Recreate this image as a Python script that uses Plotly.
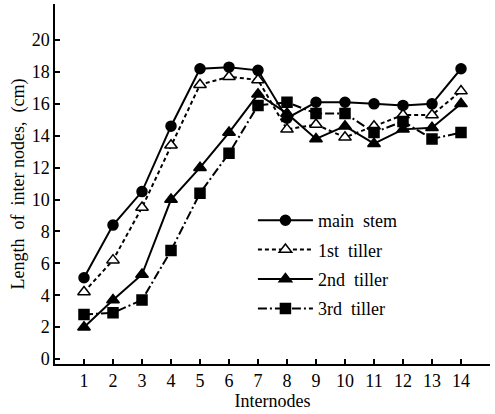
import plotly.graph_objects as go

internodes = list(range(1, 15))
main_stem = [5.1, 8.4, 10.5, 14.6, 18.2, 18.3, 18.1, 15.1, 16.1, 16.1, 16.0, 15.9, 16.0, 18.2]
tiller_1 = [4.2, 6.2, 9.5, 13.4, 17.2, 17.7, 17.5, 14.4, 14.7, 13.9, 14.6, 15.3, 15.3, 16.8]
tiller_2 = [2.0, 3.7, 5.3, 10.0, 12.0, 14.2, 16.6, 15.4, 13.8, 14.6, 13.5, 14.4, 14.5, 16.0]
tiller_3 = [2.8, 2.9, 3.7, 6.8, 10.4, 12.9, 15.9, 16.1, 15.4, 15.4, 14.2, 14.9, 13.8, 14.2]
y_ticks = list(range(0, 21, 2))
legend_names = ["main\u00a0\u00a0stem", "1st\u00a0\u00a0tiller", "2nd\u00a0\u00a0tiller", "3rd\u00a0\u00a0tiller"]

FONT = "Liberation Serif, Times New Roman, serif"

styles = [
    ("circle", "black", "solid", 10),
    ("triangle-up", "white", "4px,3px", 11),
    ("triangle-up", "black", "solid", 11),
    ("square", "black", "9px,3px,2px,3px", 10),
]

fig = go.Figure()
for i, (name, vals, (sym, fill, dash, size)) in enumerate(
        zip(legend_names, [main_stem, tiller_1, tiller_2, tiller_3], styles)):
    fig.add_trace(go.Scatter(
        x=internodes, y=vals, name=name, mode="lines+markers",
        legendgroup=f"g{i}",
        line=dict(color="black", width=2, dash=dash),
        marker=dict(symbol=sym, size=size, color=fill,
                    line=dict(color="black", width=1.5)),
    ))

fig.update_layout(
    width=495, height=414,
    margin=dict(l=55, r=5, t=4, b=50),
    paper_bgcolor="white", plot_bgcolor="white",
    font=dict(family=FONT, size=17, color="black"),
    showlegend=True,
    legend=dict(x=0.455, y=0.45, xanchor="left", yanchor="top",
                bgcolor="rgba(0,0,0,0)", font=dict(family=FONT, size=18),
                tracegroupgap=3, itemwidth=55),
    xaxis=dict(range=[0, 15], tickvals=internodes, ticks="inside", ticklen=5,
               tickwidth=1.5, tickcolor="black", showline=True, linecolor="black",
               linewidth=1.5, showgrid=False, zeroline=False,
               tickfont=dict(family=FONT, size=18),
               title=dict(text="Internodes", font=dict(family=FONT, size=18), standoff=3)),
    yaxis=dict(range=[-0.31, 22.26], tickvals=y_ticks, ticks="inside", ticklen=5,
               tickwidth=1.5, tickcolor="black", showline=True, linecolor="black",
               linewidth=1.5, showgrid=False, zeroline=False,
               tickfont=dict(family=FONT, size=18),
               title=dict(text="Length\u00a0\u00a0of\u00a0\u00a0inter\u00a0nodes,\u00a0\u00a0(cm)",
                          font=dict(family=FONT, size=18), standoff=2)),
)

fig.write_html("out.html")
